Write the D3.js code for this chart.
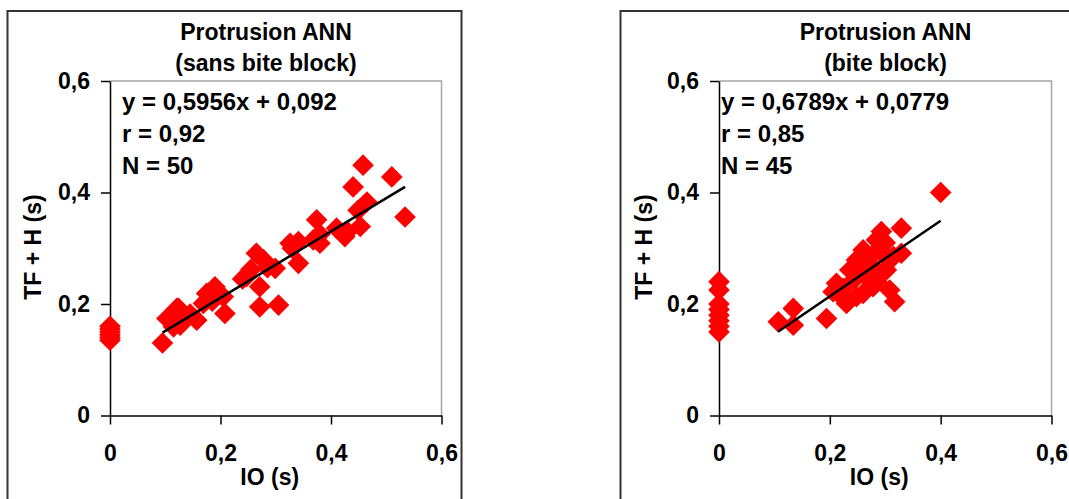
<!DOCTYPE html>
<html>
<head>
<meta charset="utf-8">
<script src="https://cdn.jsdelivr.net/npm/d3@7"></script>
<style>
  html, body { margin: 0; padding: 0; background: #fff; }
  svg { display: block; }
  text { font-family: "Liberation Sans", Arial, sans-serif; font-weight: bold; fill: #000; }
</style>
</head>
<body>
<svg id="chart" width="1069" height="499"></svg>
<script>
// ---------- DATA ----------
const xTicks = [0, 0.2, 0.4, 0.6];
const yTicks = [0, 0.2, 0.4, 0.6];

// Panel 1: sans bite block
const sansTitle = ["Protrusion ANN", "(sans bite block)"];
const sansStats = ["y = 0,5956x + 0,092", "r = 0,92", "N = 50"];
const sansSlope = 0.5956, sansIntercept = 0.092;
const sansIO = [0.458, 0.510, 0.440, 0.534, 0.465, 0.449, 0.453, 0.410, 0.425, 0.374,
                0.380, 0.368, 0.326, 0.341, 0.341, 0.299, 0.265, 0.278, 0.247, 0.271,
                0.271, 0.305, 0.190, 0.175, 0.205, 0.208, 0.169, 0.157, 0.124, 0.109,
                0.115, 0.095, 0.127, 0.103, 0.121, 0.240, 0.255, 0.285, 0.195, 0.185,
                0.145, 0.330, 0.380, 0.430,
                0, 0, 0, 0, 0, 0];
const sansTFH = [0.449, 0.428, 0.410, 0.356, 0.383, 0.368, 0.339, 0.336, 0.321, 0.351,
                 0.309, 0.315, 0.309, 0.312, 0.273, 0.264, 0.291, 0.279, 0.249, 0.231,
                 0.195, 0.198, 0.231, 0.219, 0.213, 0.183, 0.201, 0.171, 0.192, 0.177,
                 0.159, 0.130, 0.162, 0.174, 0.192, 0.245, 0.262, 0.265, 0.222, 0.205,
                 0.182, 0.300, 0.325, 0.330,
                 0.160, 0.155, 0.150, 0.145, 0.140, 0.135];

// Panel 2: bite block
const biteTitle = ["Protrusion ANN", "(bite block)"];
const biteStats = ["y = 0,6789x + 0,0779", "r = 0,85", "N = 45"];
const biteSlope = 0.6789, biteIntercept = 0.0779;
const biteIO = [0.400, 0.329, 0.293, 0.329, 0.284, 0.308, 0.272, 0.260, 0.248, 0.236,
                0.284, 0.302, 0.308, 0.317, 0.260, 0.248, 0.230, 0.212, 0.206, 0.224,
                0.194, 0.134, 0.134, 0.107, 0.266, 0.260, 0.278, 0.290, 0.295, 0.275,
                0.255, 0.245, 0.265, 0.300, 0.285, 0.220, 0.315,
                0, 0, 0, 0, 0, 0, 0, 0];
const biteTFH = [0.400, 0.336, 0.330, 0.291, 0.315, 0.279, 0.285, 0.273, 0.279, 0.261,
                 0.255, 0.261, 0.225, 0.204, 0.219, 0.213, 0.201, 0.237, 0.222, 0.228,
                 0.174, 0.192, 0.162, 0.168, 0.249, 0.297, 0.231, 0.300, 0.290, 0.270,
                 0.255, 0.245, 0.265, 0.310, 0.240, 0.215, 0.285,
                 0.240, 0.225, 0.200, 0.190, 0.180, 0.170, 0.160, 0.150];

const xTitle = "IO (s)";
const yTitle = "TF + H (s)";

// ---------- LAYOUT ----------
const panels = [
  { frameX: 7.5, frameW: 454, left: 110, right: 441.5, titleX: 266, io: sansIO, tfh: sansTFH,
    title: sansTitle, stats: sansStats, slope: sansSlope, intercept: sansIntercept, statsX: 122, yTitleX: 41 },
  { frameX: 620.5, frameW: 470, left: 719, right: 1051.5, titleX: 885.5, io: biteIO, tfh: biteTFH,
    title: biteTitle, stats: biteStats, slope: biteSlope, intercept: biteIntercept, statsX: 721, yTitleX: 652 }
];
const plotTop = 81, plotBottom = 415.5;
const fmt = d => d === 0 ? "0" : d3.format(".1f")(d).replace(".", ",");

const svg = d3.select("#chart");

panels.forEach(p => {
  const x = d3.scaleLinear().domain([0, 0.6]).range([p.left, p.right]);
  const y = d3.scaleLinear().domain([0, 0.6]).range([plotBottom, plotTop]);
  const g = svg.append("g");

  // outer frame
  g.append("rect").attr("x", p.frameX).attr("y", 11).attr("width", p.frameW).attr("height", 600)
    .attr("fill", "none").attr("stroke", "#333").attr("stroke-width", 2);

  // plot area border (top & right, gray)
  g.append("path")
    .attr("d", `M${p.left},${plotTop}H${p.right}V${plotBottom}`)
    .attr("fill", "none").attr("stroke", "#a6a6a6").attr("stroke-width", 1.5);

  // titles
  p.title.forEach((t, i) => {
    g.append("text").attr("x", p.titleX).attr("y", 40 + i * 31)
      .attr("text-anchor", "middle").style("font-size", "23px").text(t);
  });

  // axes
  const xAxis = d3.axisBottom(x).tickValues(xTicks).tickFormat(fmt)
    .tickSizeInner(9).tickSizeOuter(0).tickPadding(20);
  const yAxis = d3.axisLeft(y).tickValues(yTicks).tickFormat(fmt)
    .tickSizeInner(9).tickSizeOuter(0).tickPadding(11);

  const gx = g.append("g").attr("transform", `translate(0,${plotBottom})`).call(xAxis);
  const gy = g.append("g").attr("transform", `translate(${p.left},0)`).call(yAxis);
  [gx, gy].forEach(a => {
    a.selectAll("path, line").attr("stroke", "#000").attr("stroke-width", 1.5);
    a.selectAll("text").style("font-size", "23px").style("font-family", "Liberation Sans, Arial, sans-serif")
      .style("font-weight", "bold").attr("fill", "#000");
  });

  // axis titles
  g.append("text").attr("x", (p.left + p.right) / 2 - 6).attr("y", 485)
    .attr("text-anchor", "middle").style("font-size", "23px").text(xTitle);
  g.append("text").attr("transform", `translate(${p.yTitleX},247) rotate(-90)`)
    .attr("text-anchor", "middle").style("font-size", "23px").text(yTitle);

  // points
  const pts = p.io.map((v, i) => [v, p.tfh[i]]);
  const sym = d3.symbol(d3.symbolSquare, 235);
  g.append("g").selectAll("path").data(pts).join("path")
    .attr("d", sym)
    .attr("transform", d => `translate(${x(d[0])},${y(d[1])}) rotate(45)`)
    .attr("fill", "#ff0000");

  // trend line over nonzero x range
  const nz = p.io.filter(v => v > 0);
  const x0 = d3.min(nz), x1 = d3.max(nz);
  g.append("line")
    .attr("x1", x(x0)).attr("y1", y(p.slope * x0 + p.intercept))
    .attr("x2", x(x1)).attr("y2", y(p.slope * x1 + p.intercept))
    .attr("stroke", "#000").attr("stroke-width", 2.5);

  // stats text
  p.stats.forEach((t, i) => {
    g.append("text").attr("x", p.statsX).attr("y", 110 + i * 32)
      .style("font-size", "24px").text(t);
  });
});
</script>
</body>
</html>
